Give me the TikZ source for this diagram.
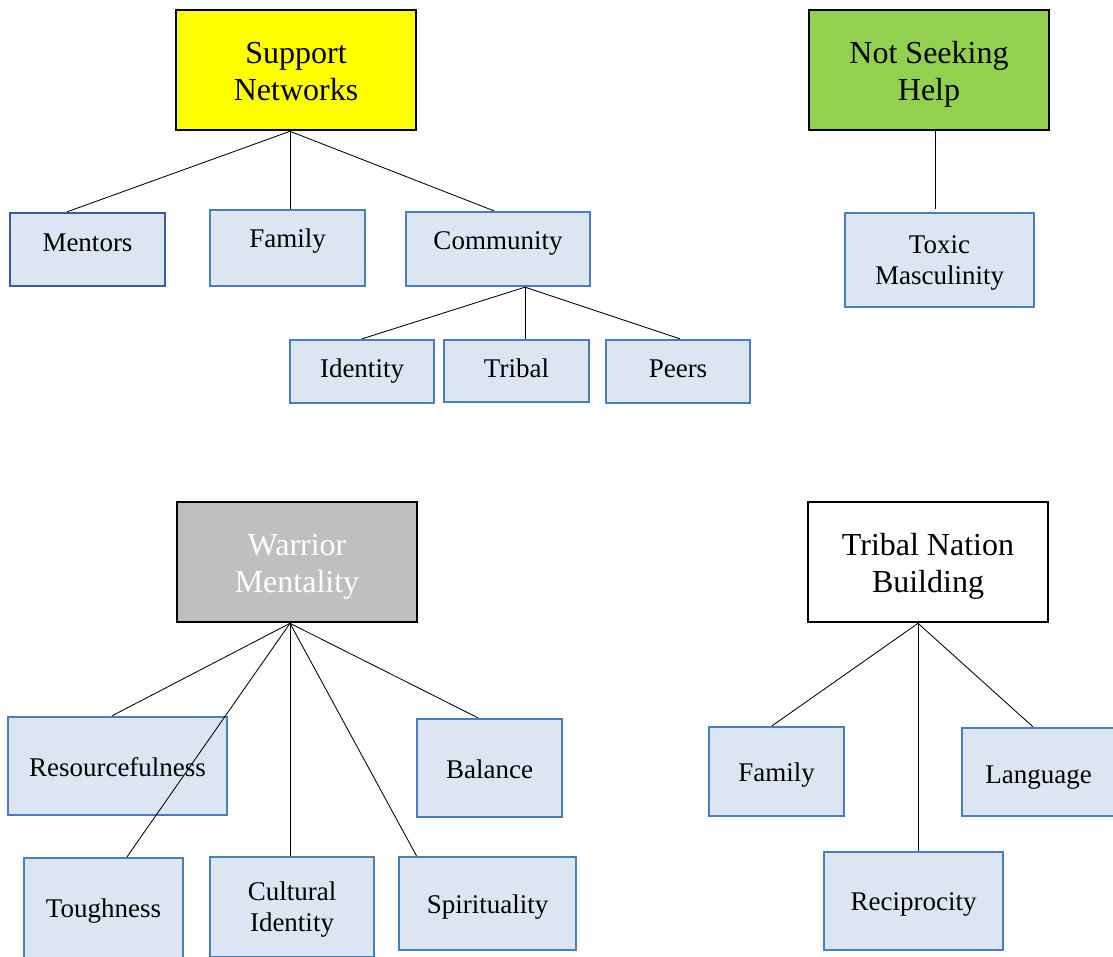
\documentclass[tikz,border=0pt]{standalone}
\usepackage{fontspec}
\setmainfont{Liberation Serif}
\definecolor{cfill}{HTML}{DCE6F2}
\definecolor{cline}{HTML}{4A7EBB}
\definecolor{cdark}{HTML}{385D9A}
\definecolor{snyellow}{HTML}{FFFF00}
\definecolor{nshgreen}{HTML}{92D050}
\definecolor{wmgray}{HTML}{BFBFBF}
\newcommand{\lift}[2]{\raisebox{#1}[\height][\depth]{#2}}
\newcommand{\twolines}[3]{\raisebox{#1}[\height][\depth]{\begin{tabular}{@{}c@{}}#2\\#3\end{tabular}}}
\begin{document}
\begin{tikzpicture}[x=1pt,y=-1pt,
  titlebox/.style={draw=black, line width=2.6pt, minimum width=240pt, minimum height=120pt, inner sep=0pt, font=\fontsize{32}{37.5}\selectfont},
  childbox/.style={draw=cline, line width=2.3pt, fill=cfill, inner sep=0pt, font=\fontsize{27}{31}\selectfont, text height=24pt, text depth=5pt},
  childtwo/.style={draw=cline, line width=2.3pt, fill=cfill, inner sep=0pt, font=\fontsize{27}{31}\selectfont},
  conn/.style={draw=black, line width=0.85pt}]
\useasboundingbox (0,0) rectangle (1113,956);

% Support Networks
\node[titlebox, fill=snyellow] (sn) at (296,70) {\twolines{-4.5pt}{Support}{Networks}};
\node[childbox, draw=cdark, minimum width=155pt, minimum height=73pt] (mentors) at (87.5,249.5) {\lift{7.5pt}{Mentors}};
\node[childbox, minimum width=155pt, minimum height=76pt] (fam) at (287.5,248) {\lift{10pt}{Family}};
\node[childbox, minimum width=184pt, minimum height=74pt] (comm) at (498,249) {\lift{9pt}{Community}};
\node[childbox, minimum width=144pt, minimum height=63pt] (ident) at (362,371.5) {\lift{3.5pt}{Identity}};
\node[childbox, minimum width=145pt, minimum height=62pt] (tribal) at (516.5,371) {\lift{3pt}{Tribal}};
\node[childbox, minimum width=144pt, minimum height=63pt] (peers) at (678,371.5) {\lift{3.5pt}{Peers}};

% Not Seeking Help
\node[titlebox, fill=nshgreen] (nsh) at (929,70) {\twolines{-4.5pt}{Not Seeking}{Help}};
\node[childtwo, minimum width=189pt, minimum height=94pt] (toxic) at (939.5,260) {\twolines{-3pt}{Toxic}{Masculinity}};

% Warrior Mentality
\node[titlebox, fill=wmgray, text=white] (wm) at (297,562) {\twolines{-4.5pt}{Warrior}{Mentality}};
\node[childbox, minimum width=219pt, minimum height=98pt] (res) at (117.5,766) {\lift{-1pt}{Resourcefulness}};
\node[childbox, minimum width=145pt, minimum height=98pt] (bal) at (489.5,768) {\lift{-1pt}{Balance}};
\node[childbox, minimum width=159pt, minimum height=100pt] (tough) at (103.5,908) {Toughness};
\node[childtwo, minimum width=164pt, minimum height=100pt] (cult) at (292,907) {\twolines{-3pt}{Cultural}{Identity}};
\node[childbox, minimum width=177pt, minimum height=93pt] (spir) at (487.5,903.5) {\lift{-0.5pt}{Spirituality}};

% Tribal Nation Building
\node[titlebox, fill=white] (tnb) at (928,562) {\twolines{-4.5pt}{Tribal Nation}{Building}};
\node[childbox, minimum width=135pt, minimum height=89pt] (fam2) at (776.5,771.5) {Family};
\node[childbox, minimum width=153pt, minimum height=88pt] (lang) at (1038.5,772) {\lift{-2pt}{Language}};
\node[childbox, minimum width=179pt, minimum height=98pt] (recip) at (913.5,901) {Reciprocity};

% connectors
\draw[conn] ([xshift=-6pt]sn.south) -- ([xshift=-20.5pt]mentors.north);
\draw[conn] ([xshift=-6pt]sn.south) -- ([xshift=2.5pt]fam.north);
\draw[conn] ([xshift=-6pt]sn.south) -- ([xshift=-4pt]comm.north);
\draw[conn] ([xshift=27pt]comm.south) -- (ident.north);
\draw[conn] ([xshift=27pt]comm.south) -- ([xshift=8.5pt]tribal.north);
\draw[conn] ([xshift=27pt]comm.south) -- ([xshift=2pt]peers.north);

\draw[conn] ([xshift=6pt]nsh.south) -- ([xshift=-4.5pt,yshift=3pt]toxic.north);

\draw[conn] ([xshift=-7pt]wm.south) -- ([xshift=-5.5pt]res.north);
\draw[conn] ([xshift=-7pt]wm.south) -- ([xshift=23.5pt]tough.north);
\draw[conn] ([xshift=-7pt]wm.south) -- ([xshift=-2pt]cult.north);
\draw[conn] ([xshift=-7pt]wm.south) -- ([xshift=-71pt]spir.north);
\draw[conn] ([xshift=-7pt]wm.south) -- ([xshift=-11.5pt]bal.north);

\draw[conn] ([xshift=-10pt]tnb.south) -- ([xshift=-4.5pt]fam2.north);
\draw[conn] ([xshift=-10pt]tnb.south) -- ([xshift=4.5pt]recip.north);
\draw[conn] ([xshift=-10pt]tnb.south) -- ([xshift=-5.5pt]lang.north);
\end{tikzpicture}
\end{document}
